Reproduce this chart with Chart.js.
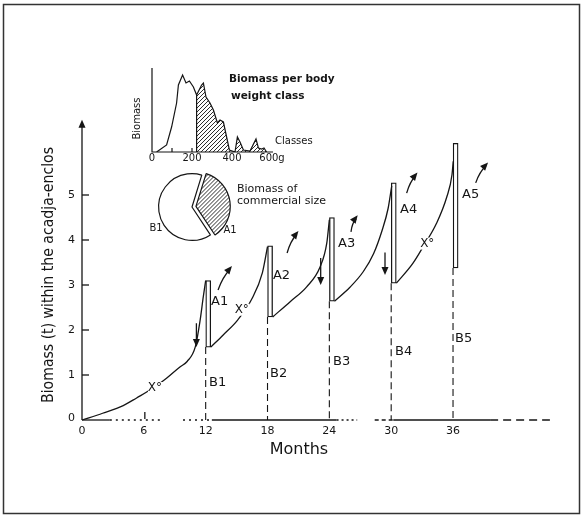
<!DOCTYPE html>
<html><head><meta charset="utf-8">
<script src="https://cdn.jsdelivr.net/npm/chart.js@4.4.1/dist/chart.umd.min.js"></script>
<style>
html,body{margin:0;padding:0;background:#fff;}
#wrap{position:relative;width:582px;height:516px;overflow:hidden;}
#wrap canvas{position:absolute;}
</style></head><body>
<div id="wrap">
<canvas id="main" width="582" height="516" style="left:0;top:0;width:582px;height:516px"></canvas>
<canvas id="hist" width="200" height="110" style="left:130px;top:55px;width:200px;height:110px"></canvas>
<canvas id="pie" width="84" height="84" style="left:150px;top:165px;width:84px;height:84px"></canvas>
</div>
<script>
// ---------- data ----------
const xTicks = [0, 6, 12, 18, 24, 30, 36];
const xTickLabels = ['0', '6', '12', '18', '24', '30', '36'];
const yTicks = [0, 1, 2, 3, 4, 5];
const yTickLabels = ['0', '1', '2', '3', '4', '5'];

const harvestMonths = [12, 18, 24, 30, 36];
const biomassBeforeHarvest = [3.10, 3.87, 4.50, 5.27, 6.15];
const biomassAfterHarvest = [1.62, 2.29, 2.64, 3.04, 3.38];
const harvestLabels = ['A1', 'A2', 'A3', 'A4', 'A5'];
const remainLabels = ['B1', 'B2', 'B3', 'B4', 'B5'];

// growth curve between harvests: [month, biomass t]
const growth0 = [[0,0],[2,0.15],[4,0.32],[5.3,0.49],[6.9,0.71],[8.2,0.93],[9.5,1.18],[10.2,1.30],[11,1.63],[11.45,2.2],[11.77,2.74],[12,3.10]];
const growth1 = [[12.5,1.62],[13.7,1.89],[15.1,2.22],[16.5,2.70],[17.5,3.27],[18,3.85]];
const growth2 = [[18.5,2.29],[20.2,2.63],[21.8,2.96],[23.1,3.40],[23.75,3.93],[24,4.45]];
const growth3 = [[24.5,2.64],[26,2.95],[27.3,3.30],[28.3,3.70],[29.1,4.20],[29.7,4.70],[30.05,5.20]];
const growth4 = [[30.5,3.04],[32.1,3.48],[33.1,3.85],[34.4,4.37],[35.4,4.96],[35.9,5.45],[36.02,5.75]];

// inset: biomass per body weight class
const histGrams   = [23,73,98,123,132,153,170,187,207,223,248,257,270,290,307,327,340,357,373,387,415,427,440,457,490,520,532,548,560,573];
const histBiomass = [0, 7, 25, 49, 67, 77, 69, 71, 65, 57, 67, 69, 55, 49, 42, 29, 32, 30, 15, 2, 0, 15, 10, 2, 1, 13, 4, 3, 4, 0];
const commercialFrom = 223;
const histTickValues = [0, 200, 400, 600];
const histTickLabels = ['0', '200', '400', '600g'];

// inset: pie
const pieLabels = ['A1', 'B1'];
const pieShares = [36, 64];

// annotations (data coordinates)
const downArrows = [[[11.1,2.15],[11.1,1.62]], [[23.16,3.6],[23.16,3.0]], [[29.4,3.72],[29.4,3.22]]];
const upArrows = [[[13.2,2.89],[14.55,3.42]], [[19.9,3.71],[21.0,4.2]], [[26.1,4.18],[26.75,4.55]], [[31.5,5.04],[32.55,5.5]], [[38.2,5.27],[39.4,5.72]]];
const aLabelPos = [[12.52,2.62],[18.53,3.2],[24.84,3.91],[30.86,4.67],[36.87,5.0]];
const bLabelPos = [[12.32,0.82],[18.24,1.04],[24.35,1.29],[30.37,1.53],[36.2,1.8]];
const xoLabelPos = [[7.08,0.71],[15.5,2.45],[33.5,3.92]];
const yAxisTop = 6.67;

// ---------- helpers ----------
const INK = '#151515';
const FONT = '"DejaVu Sans", sans-serif';
function arrowHead(ctx, fx, fy, tx, ty, len, hw) {
  const a = Math.atan2(ty - fy, tx - fx);
  const c = Math.cos(a), s = Math.sin(a);
  ctx.beginPath();
  ctx.moveTo(tx, ty);
  ctx.lineTo(tx - len * c + hw * s, ty - len * s - hw * c);
  ctx.lineTo(tx - len * c - hw * s, ty - len * s + hw * c);
  ctx.closePath();
  ctx.fill();
}
function makeHatch(step, lw) {
  const c = document.createElement('canvas');
  c.width = step; c.height = step;
  const g = c.getContext('2d');
  g.strokeStyle = INK; g.lineWidth = lw;
  g.beginPath();
  g.moveTo(0, step); g.lineTo(step, 0);
  g.moveTo(-1, 1); g.lineTo(1, -1);
  g.moveTo(step - 1, step + 1); g.lineTo(step + 1, step - 1);
  g.stroke();
  return g.createPattern(c, 'repeat');
}
const hatch = makeHatch(4, 0.9);

// ---------- main chart ----------
const curveData = [];
[growth0, growth1, growth2, growth3, growth4].forEach(seg => {
  seg.forEach(p => curveData.push({x: p[0], y: p[1]}));
  curveData.push({x: seg[seg.length - 1][0] + 0.01, y: null});
});
const barData = harvestMonths.map((m, i) => ({x: m + 0.25, y: [biomassAfterHarvest[i], biomassBeforeHarvest[i]]}));
const dashData = [];
harvestMonths.forEach((m, i) => {
  dashData.push({x: m, y: biomassAfterHarvest[i]}, {x: m, y: 0}, {x: m, y: null});
});

const mainDecor = {
  id: 'mainDecor',
  beforeDatasetsDraw(chart) {
    const {ctx, scales: {x, y}} = chart;
    const x0 = x.getPixelForValue(0), y0 = y.getPixelForValue(0);
    ctx.save();
    // frame
    ctx.strokeStyle = '#333'; ctx.lineWidth = 1.5;
    ctx.strokeRect(3.5, 4.5, 576, 509);
    ctx.strokeStyle = INK; ctx.fillStyle = INK; ctx.lineWidth = 1.3;
    // y axis
    const yTop = y.getPixelForValue(yAxisTop);
    ctx.beginPath(); ctx.moveTo(x0, y0); ctx.lineTo(x0, yTop + 5); ctx.stroke();
    arrowHead(ctx, x0, yTop + 20, x0, yTop, 8, 3.5);
    yTicks.forEach((v, i) => {
      const py = y.getPixelForValue(v);
      if (v > 0) { ctx.beginPath(); ctx.moveTo(x0, py); ctx.lineTo(x0 + 7, py); ctx.stroke(); }
      ctx.font = '11px ' + FONT; ctx.textAlign = 'right'; ctx.textBaseline = 'middle';
      ctx.fillText(yTickLabels[i], x0 - 7, py - (v === 0 ? 2 : 0));
    });
    // x axis
    const segs = [[0, 2.7, []], [2.7, 7.6, [2, 4]], [9.8, 12.6, [2, 4]], [12.6, 24.7, []], [24.7, 26.7, [2, 3]], [28.4, 30.2, [4, 3]], [30.2, 39.6, []], [39.6, 45.4, [8, 5]]];
    segs.forEach(s => {
      ctx.setLineDash(s[2]);
      ctx.beginPath(); ctx.moveTo(x.getPixelForValue(s[0]), y0); ctx.lineTo(x.getPixelForValue(s[1]), y0); ctx.stroke();
    });
    ctx.setLineDash([]);
    const p6 = x.getPixelForValue(6);
    ctx.beginPath(); ctx.moveTo(p6 + 1, y0 - 8); ctx.lineTo(p6 + 1, y0 - 1); ctx.stroke();
    ctx.font = '11px ' + FONT; ctx.textAlign = 'center'; ctx.textBaseline = 'middle';
    xTicks.forEach((v, i) => ctx.fillText(xTickLabels[i], x.getPixelForValue(v), y0 + 11));
    // titles
    ctx.font = '16px ' + FONT;
    ctx.fillText('Months', x.getPixelForValue(21.05), y0 + 30);
    ctx.save();
    ctx.translate(49, 275); ctx.rotate(-Math.PI / 2);
    ctx.font = '15px ' + FONT;
    const t = 'Biomass (t) within the acadja-enclos';
    const w = ctx.measureText(t).width;
    ctx.scale(256 / w, 1);
    ctx.fillText(t, 0, 0);
    ctx.restore();
    ctx.restore();
  },
  afterDatasetsDraw(chart) {
    const {ctx, scales: {x, y}} = chart;
    ctx.save();
    ctx.strokeStyle = INK; ctx.fillStyle = INK; ctx.lineWidth = 1.3;
    // down arrows
    downArrows.forEach(a => {
      const fx = x.getPixelForValue(a[0][0]), fy = y.getPixelForValue(a[0][1]);
      const tx = x.getPixelForValue(a[1][0]), ty = y.getPixelForValue(a[1][1]);
      ctx.beginPath(); ctx.moveTo(fx, fy); ctx.lineTo(tx, ty - 5); ctx.stroke();
      arrowHead(ctx, fx, fy, tx, ty, 8, 3.5);
    });
    // up arrows (slightly curved)
    upArrows.forEach(a => {
      const fx = x.getPixelForValue(a[0][0]), fy = y.getPixelForValue(a[0][1]);
      const tx = x.getPixelForValue(a[1][0]), ty = y.getPixelForValue(a[1][1]);
      const mx = (fx + tx) / 2, my = (fy + ty) / 2;
      const dx = tx - fx, dy = ty - fy, L = Math.hypot(dx, dy);
      const cx = mx + (dy / L) * 2.5, cy = my - (dx / L) * 2.5;
      ctx.beginPath(); ctx.moveTo(fx, fy); ctx.quadraticCurveTo(cx, cy, tx - dx / L * 4, ty - dy / L * 4); ctx.stroke();
      arrowHead(ctx, cx, cy, tx, ty, 8, 3.5);
    });
    // labels
    ctx.font = '13px ' + FONT; ctx.textAlign = 'left'; ctx.textBaseline = 'middle';
    harvestLabels.forEach((l, i) => ctx.fillText(l, x.getPixelForValue(aLabelPos[i][0]), y.getPixelForValue(aLabelPos[i][1])));
    remainLabels.forEach((l, i) => ctx.fillText(l, x.getPixelForValue(bLabelPos[i][0]), y.getPixelForValue(bLabelPos[i][1])));
    ctx.font = '12px ' + FONT; ctx.textAlign = 'center';
    xoLabelPos.forEach(p => {
      const px = x.getPixelForValue(p[0]), py = y.getPixelForValue(p[1]);
      ctx.fillStyle = '#fff'; ctx.fillRect(px - 7, py - 6, 15, 12);
      ctx.fillStyle = INK; ctx.fillText('X°', px, py);
    });
    // inset texts
    ctx.textAlign = 'left';
    ctx.font = 'bold 10.5px ' + FONT;
    ctx.fillText('Biomass per body', 229, 79);
    ctx.fillText('weight class', 231, 96);
    ctx.font = '10px ' + FONT;
    ctx.fillText('Classes', 275, 141);
    ctx.font = '11px ' + FONT;
    ctx.fillText('Biomass of', 237, 189);
    ctx.fillText('commercial size', 237, 201);
    ctx.font = '10px ' + FONT; ctx.textAlign = 'center';
    ctx.fillText('B1', 156, 228);
    ctx.fillText('A1', 230, 230);
    ctx.restore();
  }
};

new Chart(document.getElementById('main'), {
  type: 'line',
  data: {
    datasets: [
      {type: 'line', data: dashData, borderColor: INK, borderWidth: 1.1, borderDash: [7, 4], pointRadius: 0, spanGaps: false, tension: 0, clip: false},
      {type: 'line', data: curveData, borderColor: INK, borderWidth: 1.3, pointRadius: 0, spanGaps: false, cubicInterpolationMode: 'monotone', clip: false},
      {type: 'bar', data: barData, backgroundColor: '#fff', borderColor: INK, borderWidth: 1.3, borderSkipped: false, barThickness: 5, grouped: false, clip: false}
    ]
  },
  options: {
    responsive: false, animation: false, events: [],
    layout: {padding: {left: 82, right: 5.3, top: 15, bottom: 96}},
    plugins: {legend: {display: false}, tooltip: {enabled: false}},
    scales: {
      x: {type: 'linear', min: 0, max: 48, display: false, offset: false},
      y: {type: 'linear', min: 0, max: 9, display: false}
    }
  },
  plugins: [mainDecor]
});

// ---------- inset histogram ----------
const histAll = histGrams.map((g, i) => ({x: g, y: histBiomass[i]}));
const histComm = histAll.filter(p => p.x >= commercialFrom);
const histDecor = {
  id: 'histDecor',
  beforeDatasetsDraw(chart) {
    const {ctx, scales: {x, y}} = chart;
    const x0 = x.getPixelForValue(0), y0 = y.getPixelForValue(0);
    ctx.save();
    ctx.strokeStyle = INK; ctx.fillStyle = INK; ctx.lineWidth = 1.2;
    ctx.beginPath(); ctx.moveTo(x0, y.getPixelForValue(84)); ctx.lineTo(x0, y0); ctx.lineTo(x.getPixelForValue(605), y0); ctx.stroke();
    [100, 200].forEach(g => { const p = x.getPixelForValue(g); ctx.beginPath(); ctx.moveTo(p, y0); ctx.lineTo(p, y0 - 4); ctx.stroke(); });
    ctx.font = '10px ' + FONT; ctx.textAlign = 'center'; ctx.textBaseline = 'middle';
    histTickValues.forEach((v, i) => ctx.fillText(histTickLabels[i], x.getPixelForValue(v), y0 + 6));
    ctx.save();
    ctx.translate(x0 - 14.5, y.getPixelForValue(33.5)); ctx.rotate(-Math.PI / 2);
    ctx.fillText('Biomass', 0, 0);
    ctx.restore();
    ctx.restore();
  }
};
new Chart(document.getElementById('hist'), {
  type: 'line',
  data: {
    datasets: [
      {data: histComm, borderColor: 'rgba(0,0,0,0)', borderWidth: 0, pointRadius: 0, fill: 'origin', backgroundColor: hatch, tension: 0},
      {data: histAll, borderColor: INK, borderWidth: 1.2, pointRadius: 0, fill: false, tension: 0},
      {data: [{x: commercialFrom, y: 0}, {x: commercialFrom, y: histComm[0].y}], borderColor: INK, borderWidth: 1.2, pointRadius: 0, fill: false}
    ]
  },
  options: {
    responsive: false, animation: false, events: [],
    layout: {padding: {left: 22, right: 54, top: 7, bottom: 13}},
    plugins: {legend: {display: false}, tooltip: {enabled: false}},
    scales: {
      x: {type: 'linear', min: 0, max: 620, display: false},
      y: {type: 'linear', min: 0, max: 90, display: false}
    }
  },
  plugins: [histDecor]
});

// ---------- inset pie ----------
new Chart(document.getElementById('pie'), {
  type: 'pie',
  data: {labels: pieLabels, datasets: [{data: pieShares, backgroundColor: [hatch, '#fff'], borderColor: INK, borderWidth: 1.2, offset: [16, 0]}]},
  options: {
    responsive: false, animation: false, events: [], rotation: 17,
    layout: {padding: 0},
    plugins: {legend: {display: false}, tooltip: {enabled: false}}
  }
});
</script>
</body></html>
